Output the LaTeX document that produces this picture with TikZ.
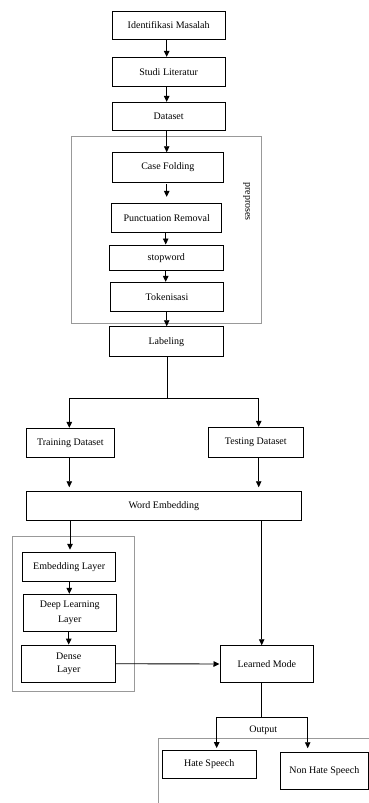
\documentclass[tikz,border=0pt]{standalone}
\usepackage{fontspec}
\setmainfont{Liberation Serif}
\usetikzlibrary{arrows.meta,calc}
\begin{document}
\begin{tikzpicture}[x=1pt,y=-1pt,
  every node/.style={font=\fontsize{10}{15}\selectfont},
  box/.style={draw=black,line width=0.9pt,minimum width=#1,inner sep=0pt,align=center},
  frame/.style={draw=black!40,line width=1pt},
  arr/.style={line width=0.9pt,-{Triangle[length=6pt,width=5.5pt]}},
  conn/.style={line width=0.9pt}]
\useasboundingbox (0,0) rectangle (369,803);
\fill[white] (0,0) rectangle (369,803);

% grouping frames
\draw[frame] (71.7,136.7) rectangle (261.7,323.3);
\draw[frame] (12.3,536.7) rectangle (134.3,691.7);
\draw[frame] (369,738.3) -- (158.3,738.3) -- (158.3,803);

% main column
\node[box=112.7pt,minimum height=28pt]   (idm)   at (168.7,25)    {Identifikasi Masalah};
\node[box=112.7pt,minimum height=28.7pt] (studi) at (168.7,71.7)  {Studi Literatur};
\node[box=112.7pt,minimum height=27.7pt] (data)  at (168.7,116.2) {Dataset};
\node[box=111pt,minimum height=29.6pt]   (case)  at (167.8,167.5) {Case Folding};
\node[box=110pt,minimum height=29pt]     (punct) at (166.7,217.8) {Punctuation Removal};
\node[box=114pt,minimum height=25.7pt]   (stop)  at (166.3,257.8) {stopword};
\node[box=112.6pt,minimum height=29.4pt] (tok)   at (167,297)     {Tokenisasi};
\node[box=114pt,minimum height=30pt]     (lab)   at (166.3,341.7) {Labeling};
\node[rotate=-90] (pre) at (246.7,201.7) {preproses};

% split into training and testing
\node[box=87.3pt,minimum height=29pt] (train) at (70.3,442.8)  {Training Dataset};
\node[box=95pt,minimum height=30pt]   (test)  at (255.8,442.3) {Testing Dataset};
\node[box=274.3pt,minimum height=28.6pt] (we)  at (163.8,506)  {Word Embedding};

% model layers
\node[box=93pt,minimum height=29pt]     (emb)   at (69.2,567.2) {Embedding Layer};
\node[box=92.7pt,minimum height=37.4pt] (deep)  at (69.7,613)   {Deep Learning\\Layer};
\node[box=94pt,minimum height=37.3pt,font=\fontsize{10}{13.4}\selectfont] (dense) at (68.7,663.7) {Dense\\Layer};
\node[box=93.7pt,minimum height=36.6pt] (learn) at (266.8,664)  {Learned Mode};

% output classes
\node (out) at (263.3,730.7) {Output};
\node[box=93.7pt,minimum height=28.3pt] (hate) at (209.2,764.2) {Hate Speech};
\node[box=88.5pt,minimum height=36.6pt] (non)  at (324.3,771)   {Non Hate Speech};

% connectors
\draw[arr] (idm.south -| 166.7,0) -- (studi.north -| 166.7,0);
\draw[arr] (studi.south -| 166.7,0) -- (data.north -| 166.7,0);
\draw[arr] (data.south -| 166.7,0) -- (case.north -| 166.7,0);
\draw[arr] ($(case.south -| 166.7,0)+(0,1.5)$) -- ($(punct.north -| 166.7,0)+(0,-6)$);
\draw[arr] (punct.south -| 165.7,0) -- (stop.north -| 165.7,0);
\draw[arr] (stop.south -| 165.7,0) -- (tok.north -| 165.7,0);
\draw[arr] (tok.south -| 166.7,0) -- (lab.north -| 166.7,0);

\coordinate (split) at (167.7,398.3);
\draw[conn] (lab.south -| split) -- (split);
\draw[arr] (split) -| (train.north -| 69.3,0);
\draw[arr] (split) -| (test.north -| 258.7,0);

\draw[arr] (train.south -| 69.3,0) -- ($(we.north -| 69.3,0)+(0,-4)$);
\draw[arr] (test.south -| 258.7,0) -- ($(we.north -| 258.7,0)+(0,-4)$);

\draw[arr] (we.south -| 70,0) -- ($(emb.north -| 70,0)+(0,-2.5)$);
\draw[arr] (emb.south -| 69.3,0) -- (deep.north -| 69.3,0);
\draw[arr] (deep.south -| 68.7,0) -- (dense.north -| 68.7,0);

\draw[arr] (we.south -| 261.7,0) -- (learn.north -| 261.7,0);
\draw[arr] (dense.east) -- (learn.west);

\coordinate (split2) at (261.7,717.3);
\draw[conn] (learn.south -| split2) -- (split2);
\draw[arr] (split2) -| ($(hate.north -| 216.7,0)+(0,-1.5)$);
\draw[arr] (split2) -| ($(non.north -| 307.7,0)+(0,-4)$);
\end{tikzpicture}
\end{document}
